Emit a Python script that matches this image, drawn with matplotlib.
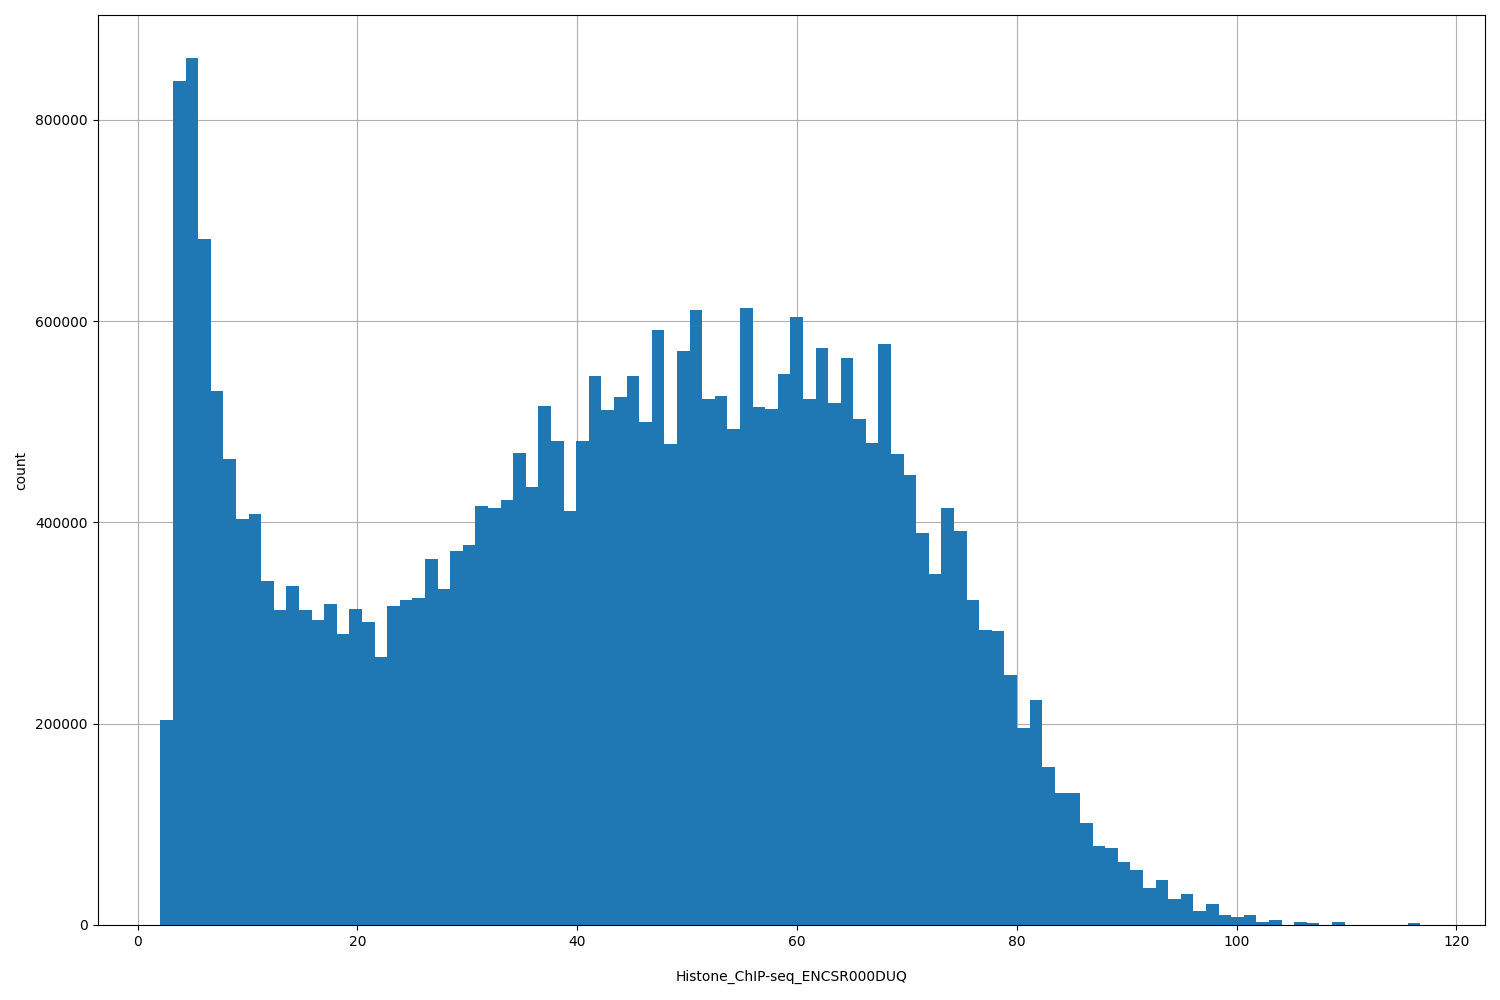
import numpy as np
import matplotlib
matplotlib.use("Agg")
import matplotlib.pyplot as plt

x_start = 2.09
x_end = 116.7
counts = [204000, 838000, 861000, 681000, 530000, 463000, 403000, 408000, 342000, 313000,
          337000, 313000, 303000, 319000, 289000, 314000, 301000, 266000, 317000, 323000,
          325000, 364000, 334000, 372000, 377000, 416000, 414000, 422000, 469000, 435000,
          516000, 481000, 411000, 481000, 545000, 512000, 525000, 545000, 500000, 591000,
          478000, 570000, 611000, 523000, 526000, 493000, 613000, 515000, 513000, 547000,
          604000, 523000, 573000, 519000, 563000, 503000, 479000, 577000, 468000, 447000,
          389000, 349000, 414000, 391000, 323000, 293000, 292000, 248000, 196000, 224000,
          157000, 131000, 131000, 101000, 78000, 76000, 63000, 55000, 37000, 45000,
          26000, 31000, 14000, 21000, 10000, 8000, 10000, 3000, 5000, 0,
          3000, 2000, 0, 3000, 0, 0, 0, 0, 0, 2000]

edges = np.linspace(x_start, x_end, len(counts) + 1)
centers = (edges[:-1] + edges[1:]) / 2

fig = plt.figure(figsize=(15, 10), dpi=100)
ax = fig.add_axes([0.065, 0.075, 0.925, 0.91])
ax.hist(centers, bins=edges, weights=counts, color="#1f77b4")
ax.set_axisbelow(True)
ax.grid(True, color="#b0b0b0")
ax.set_xlim(-3.64, 122.6)
ax.set_ylim(0, 904000)
ax.set_xlabel("Histone_ChIP-seq_ENCSR000DUQ", labelpad=15)
ax.set_ylabel("count", labelpad=5)
fig.savefig("out.png")
